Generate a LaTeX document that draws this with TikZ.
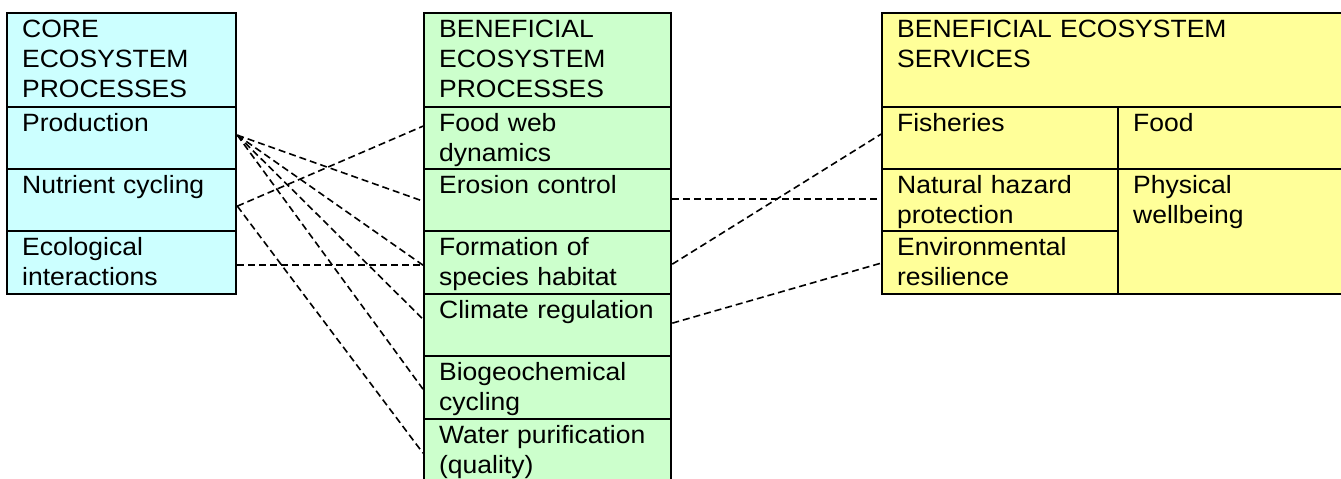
\documentclass[tikz,border=0pt]{standalone}
\usepackage{fontspec}
\setmainfont[FakeStretch=1.06]{Liberation Sans}
\definecolor{cyanbox}{HTML}{CCFFFF}
\definecolor{greenbox}{HTML}{CCFFCC}
\definecolor{yellowbox}{HTML}{FFFF99}
\begin{document}
\begin{tikzpicture}[x=1pt,y=-1pt,
  cell/.style={draw=black,line width=2.3pt,anchor=north west,inner xsep=15pt,inner ysep=0pt,
    text height=24pt,align=left,font=\fontsize{25}{30}\selectfont},
  corecell/.style={cell,fill=cyanbox,text width=199pt},
  benecell/.style={cell,fill=greenbox,text width=217pt},
  servcell/.style={cell,fill=yellowbox},
  link/.style={line width=1.6pt,dash pattern=on 7pt off 4pt}]
\useasboundingbox (0,0) rectangle (1341,479);
\clip (0,0) rectangle (1341,479);
% left column
\node[corecell,text depth=70pt] (core) at (6,12) {CORE\\ECOSYSTEM\\PROCESSES};
\node[corecell,text depth=38pt] (prod) at (6,106) {Production};
\node[corecell,text depth=38pt] (nutr) at (6,168) {Nutrient cycling};
\node[corecell,text depth=39pt] (ecol) at (6,230) {Ecological\\interactions};
% middle column
\node[benecell,text depth=70pt] (bene) at (423,12) {BENEFICIAL\\ECOSYSTEM\\PROCESSES};
\node[benecell,text depth=38pt] (food) at (423,106) {Food web\\dynamics};
\node[benecell,text depth=38pt] (eros) at (423,168) {Erosion control};
\node[benecell,text depth=39pt] (form) at (423,230) {Formation of\\species habitat};
\node[benecell,text depth=38pt] (clim) at (423,293) {Climate regulation};
\node[benecell,text depth=39pt] (biog) at (423,355) {Biogeochemical\\cycling};
\node[benecell,text depth=56pt] (water) at (423,418) {Water purification\\(quality)};
% right block
\node[servcell,text width=449pt,text depth=70pt] (serv) at (881,12) {BENEFICIAL ECOSYSTEM\\SERVICES};
\node[servcell,text width=206pt,text depth=38pt] (fish) at (881,106) {Fisheries};
\node[servcell,text width=213pt,text depth=38pt] (foodsv) at (1117,106) {Food};
\node[servcell,text width=206pt,text depth=38pt] (hazard) at (881,168) {Natural hazard\\protection};
\node[servcell,text width=206pt,text depth=39pt] (resil) at (881,230) {Environmental\\resilience};
\node[servcell,text width=213pt,text depth=101pt] (phys) at (1117,168) {Physical\\wellbeing};
% connectors left -> middle
\draw[link] ([yshift=3pt]prod.east) -- ([yshift=-1pt]eros.west);
\draw[link] ([yshift=3pt]prod.east) -- ([yshift=-2.5pt]form.west);
\draw[link] ([yshift=3pt]prod.east) -- ([yshift=6pt]clim.west);
\draw[link] ([yshift=3pt]prod.east) -- ([yshift=-1.5pt]biog.west);
\draw[link] ([yshift=-6pt]nutr.east) -- ([yshift=12pt]food.west);
\draw[link] ([yshift=-6pt]nutr.east) -- ([yshift=6pt]water.west);
\draw[link] ([yshift=-2.5pt]ecol.east) -- ([yshift=-2.5pt]form.west);
% connectors middle -> right
\draw[link] ([yshift=1pt]eros.east) -- ([yshift=1pt]hazard.west);
\draw[link] ([yshift=-1.5pt]form.east) -- ([yshift=4pt]fish.west);
\draw[link] ([yshift=2pt]clim.east) -- ([yshift=-0.5pt]resil.west);
\end{tikzpicture}
\end{document}
